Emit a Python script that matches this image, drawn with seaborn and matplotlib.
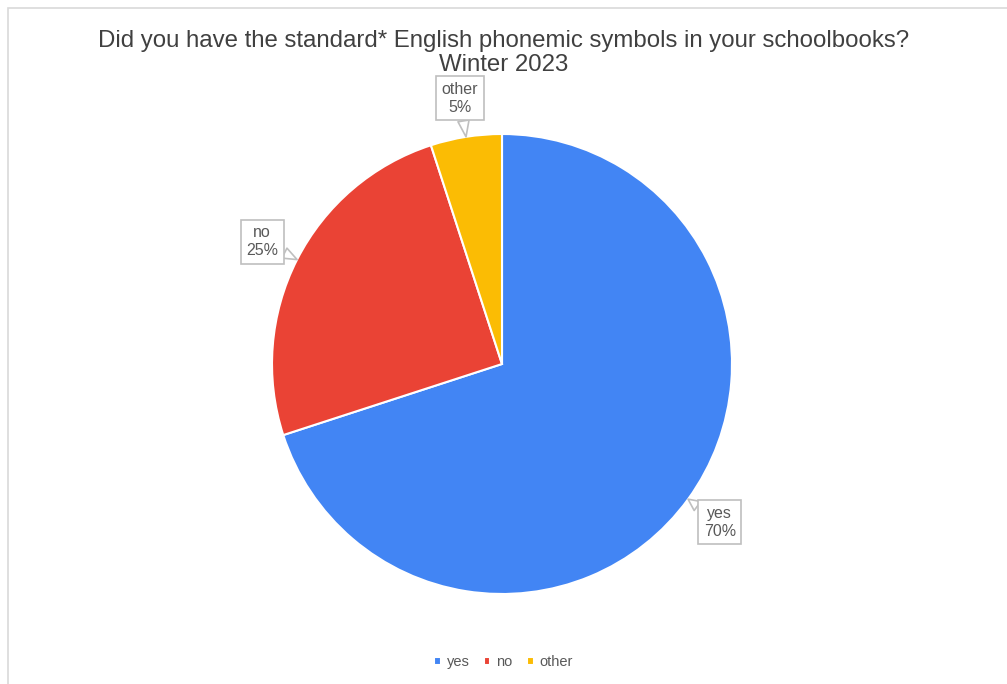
"""Pie chart: standard English phonemic symbols in schoolbooks, Winter 2023."""

import numpy as np
import matplotlib

matplotlib.use("Agg")

import matplotlib.pyplot as plt
import seaborn as sns
from matplotlib.patches import Rectangle

labels = ["yes", "no", "other"]
shares = [70, 25, 5]
colors = ["#4285F4", "#EA4335", "#FBBC04"]
title = "Did you have the standard* English phonemic symbols in your schoolbooks?\nWinter 2023"

sns.set_theme(style="white")
plt.rcParams["font.family"] = ["Liberation Sans", "DejaVu Sans"]

W, H, R = 1007, 684, 230
cx, cy = 502, 684 - 364

fig = plt.figure(figsize=(W / 100, H / 100), dpi=100)
ax = fig.add_axes([0, 0, 1, 1])

# outer light frame
fig.patches.append(Rectangle((8 / W, -0.1), 1.2, 1 - 8 / H + 0.1, transform=fig.transFigure,
                             fill=False, ec="#d9d9d9", lw=1.2, zorder=0))

wedges, _ = ax.pie(shares, colors=colors, startangle=90, counterclock=False, radius=1,
                   wedgeprops=dict(edgecolor="white", linewidth=1.5))
ax.set_xlim(-cx / R, (W - cx) / R)
ax.set_ylim(-cy / R, (H - cy) / R)
ax.set_aspect("equal")
ax.axis("off")

for w, lab, val in zip(wedges, labels, shares):
    mid = np.deg2rad((w.theta1 + w.theta2) / 2)
    tip = (1.0 * np.cos(mid), 1.0 * np.sin(mid))
    txt = (1.17 * np.cos(mid), 1.17 * np.sin(mid))
    ax.annotate(f"{lab}\n{val}%", xy=tip, xytext=txt, ha="center", va="center",
                fontsize=11.5, color="#595959", linespacing=1.25,
                bbox=dict(boxstyle="square,pad=0.35", fc="white", ec="#bfbfbf", lw=1.2),
                arrowprops=dict(arrowstyle="wedge,tail_width=0.7,shrink_factor=0.5",
                                fc="white", ec="#bfbfbf", lw=1.2, shrinkA=0, shrinkB=0))

fig.text(0.5, 1 - 53 / H, title, ha="center", va="center", fontsize=17.3,
         color="#404040", linespacing=1.15)

ax.legend(wedges, labels, loc="center", bbox_to_anchor=(0.5, 22 / H),
          bbox_transform=fig.transFigure, ncol=3, frameon=False, fontsize=10.5,
          handlelength=0.45, handleheight=0.45, handletextpad=0.4, columnspacing=1.0,
          labelcolor="#595959")

fig.savefig("out.png", dpi=100, facecolor="white")
